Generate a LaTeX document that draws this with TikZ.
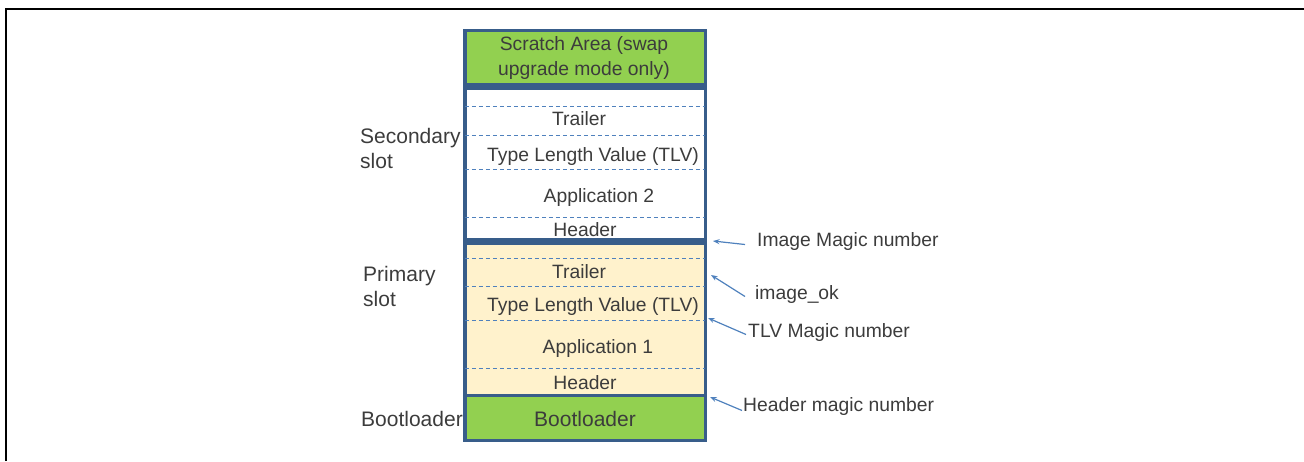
\documentclass[tikz,border=0pt]{standalone}
\usepackage{fontspec}
\setmainfont{Liberation Sans}
\usetikzlibrary{arrows.meta,calc}
\definecolor{bord}{HTML}{385D8A}
\definecolor{dashc}{HTML}{4F81BD}
\definecolor{greenf}{HTML}{92D050}
\definecolor{yellowf}{HTML}{FFF2CC}
\definecolor{txt}{HTML}{3C3C3C}
\begin{document}
\begin{tikzpicture}[x=1pt,y=-1pt,
 every node/.style={font=\fontsize{19.3}{25}\selectfont, text=txt},
 big/.style={font=\fontsize{21}{25}\selectfont},
 region/.style={draw=bord, line width=3.5pt, rectangle, inner sep=0pt, minimum width=240.5pt},
 divider/.style={draw=dashc, line width=1pt, dash pattern=on 4pt off 3pt},
 lbl/.style={anchor=west, inner sep=0pt},
 intext/.style={inner sep=0pt},
 arr/.style={draw=dashc, line width=1.2pt, -{Stealth[length=6.5pt,width=5pt]}}]
\useasboundingbox (0,0) rectangle (1304,461);
% frame
\draw[line width=2pt] (6,461) -- (6,9) -- (1304,9);
% regions
\node[region, fill=greenf, minimum height=54.25pt] (scratch) at (585,57.625) {};
\node[region, fill=white, minimum height=151.25pt] (sec) at (585,163.875) {};
\node[region, fill=yellowf, minimum height=152.5pt] (pri) at (585,319.25) {};
\node[region, fill=greenf, minimum height=45pt] (boot) at (585,418) {};
% dividers
\foreach \yy in {106,135,169,217}{
  \draw[divider] ([xshift=1.75pt]sec.west |- 0,\yy) -- ([xshift=-1.75pt]sec.east |- 0,\yy);}
\foreach \yy in {258,286,320,368}{
  \draw[divider] ([xshift=1.75pt]pri.west |- 0,\yy) -- ([xshift=-1.75pt]pri.east |- 0,\yy);}
% texts inside
\node[intext, align=center] (tscr) at (584,58) {Scratch Area (swap\\upgrade mode only)};
\node[intext] (sTr) at (579,119) {Trailer};
\node[intext] (sTLV) at (593,156.5) {Type Length Value (TLV)};
\node[intext] (sApp) at (599,197.5) {Application 2};
\node[intext] (sHd) at (585,230) {Header};
\node[intext] (pTr) at (579,271.5) {Trailer};
\node[intext] (pTLV) at (593,307) {Type Length Value (TLV)};
\node[intext] (pApp) at (598,349) {Application 1};
\node[intext] (pHd) at (585,383) {Header};
\node[intext, big] (tBoot) at (585,418.5) {Bootloader};
% left labels
\node[lbl, big, align=left] (lSec) at (360,148) {Secondary\\slot};
\node[lbl, big, align=left] (lPri) at (363,286.5) {Primary\\slot};
\node[lbl, big] (lBoot) at (361,418.5) {Bootloader};
% right labels
\node[lbl] (rImg) at (757,241.5) {Image Magic number};
\node[lbl] (rOk) at (755,294.5) {image\_ok};
\node[lbl] (rTLV) at (748,332.5) {TLV Magic number};
\node[lbl] (rHdr) at (743,406.5) {Header magic number};
% arrow targets
\coordinate (aImg) at (713,241);
\coordinate (aOk) at (711,275);
\coordinate (aTLV) at (708,318);
\coordinate (aHdr) at (710,397);
\draw[arr] ([xshift=-12pt,yshift=-3pt]rImg.west) -- (aImg);
\draw[arr] ([xshift=-10pt,yshift=-2pt]rOk.west) -- (aOk);
\draw[arr] ([xshift=-2pt,yshift=-2pt]rTLV.west) -- (aTLV);
\draw[arr] ([xshift=-1pt,yshift=-4pt]rHdr.west) -- (aHdr);
\end{tikzpicture}
\end{document}
